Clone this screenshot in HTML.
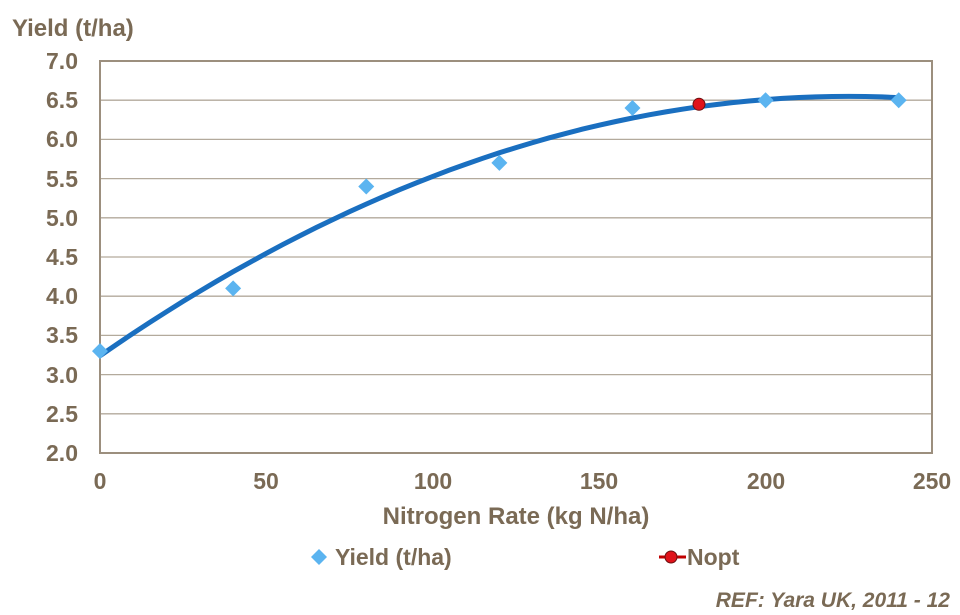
<!DOCTYPE html>
<html><head><meta charset="utf-8"><style>
body{margin:0;background:#fff}
svg text{font-family:"Liberation Sans",Arial,sans-serif;font-weight:bold;fill:#7a6a55}
</style></head><body>
<svg id="s" width="960" height="610" xmlns="http://www.w3.org/2000/svg">
<text x="12" y="36" font-size="24">Yield (t/ha)</text>
<g stroke="#b3aa9c" stroke-width="1.3">
<line x1="100" y1="100.2" x2="932" y2="100.2"/><line x1="100" y1="139.4" x2="932" y2="139.4"/>
<line x1="100" y1="178.6" x2="932" y2="178.6"/><line x1="100" y1="217.8" x2="932" y2="217.8"/>
<line x1="100" y1="257" x2="932" y2="257"/><line x1="100" y1="296.2" x2="932" y2="296.2"/>
<line x1="100" y1="335.4" x2="932" y2="335.4"/><line x1="100" y1="374.6" x2="932" y2="374.6"/>
<line x1="100" y1="413.8" x2="932" y2="413.8"/>
</g>
<rect x="100" y="61" width="832" height="392" fill="none" stroke="#9c8f7e" stroke-width="2"/>
<g font-size="23" text-anchor="end">
<text x="78" y="69">7.0</text><text x="78" y="108">6.5</text><text x="78" y="147">6.0</text>
<text x="78" y="187">5.5</text><text x="78" y="226">5.0</text><text x="78" y="265">4.5</text>
<text x="78" y="304">4.0</text><text x="78" y="343">3.5</text><text x="78" y="383">3.0</text>
<text x="78" y="422">2.5</text><text x="78" y="461">2.0</text>
</g>
<g font-size="23" text-anchor="middle">
<text x="100" y="489">0</text><text x="266" y="489">50</text><text x="433" y="489">100</text>
<text x="599" y="489">150</text><text x="766" y="489">200</text><text x="932" y="489">250</text>
<text x="516" y="524" font-size="24">Nitrogen Rate (kg N/ha)</text>
</g>
<path id="c" fill="none" stroke="#1a6fc0" stroke-width="5"/>
<g id="m" fill="#5bb4f0"></g>
<circle cx="699" cy="104.3" r="6" fill="#e0121a" stroke="#6a1010" stroke-width="1"/>
<path d="M319 549 L327 557 L319 565 L311 557Z" fill="#5bb4f0"/>
<text x="335" y="565" font-size="23">Yield (t/ha)</text>
<line x1="659" y1="557" x2="686" y2="557" stroke="#c00000" stroke-width="3"/>
<circle cx="671" cy="557" r="6" fill="#e0121a" stroke="#6a1010" stroke-width="1"/>
<text x="687" y="565" font-size="23">Nopt</text>
<text x="950" y="607" font-size="21" font-style="italic" text-anchor="end">REF: Yara UK, 2011 - 12</text>
</svg>
<script>
function X(x){return 100+x*3.328}function Y(y){return 61+(7-y)*78.4}
var d="";for(var x=0;x<=240;x+=5){var y=3.24+0.02942*x-6.54e-5*x*x;d+=(x?"L":"M")+X(x).toFixed(1)+" "+Y(y).toFixed(1)+" ";}
document.getElementById("c").setAttribute("d",d);
var pts=[[0,3.3],[40,4.1],[80,5.4],[120,5.7],[160,6.4],[200,6.5],[240,6.5]],h="";
pts.forEach(function(p){var a=X(p[0]),b=Y(p[1]);h+='<path d="M'+a+' '+(b-8)+' L'+(a+8)+' '+b+' L'+a+' '+(b+8)+' L'+(a-8)+' '+b+'Z"/>';});
document.getElementById("m").innerHTML=h;
</script>
</body></html>
